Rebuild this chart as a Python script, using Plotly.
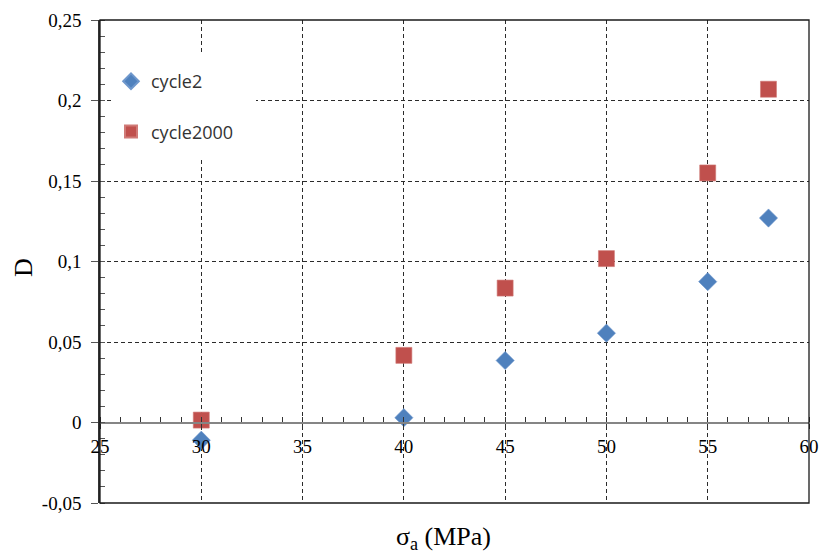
import plotly.graph_objects as go

# Data
stress = [30, 40, 45, 50, 55, 58]
cycle2 = [-0.011, 0.003, 0.0385, 0.0555, 0.0875, 0.127]
cycle2000 = [0.0015, 0.0417, 0.0835, 0.1018, 0.155, 0.207]

x_ticks = [25, 30, 35, 40, 45, 50, 55, 60]
x_ticktext = ["25", "30", "35", "40", "45", "50", "55", "60"]
y_ticks = [-0.05, 0, 0.05, 0.1, 0.15, 0.2, 0.25]
y_ticktext = ["-0,05", "0", "0,05", "0,1", "0,15", "0,2", "0,25"]

x_range = [25, 60]
y_range = [-0.05, 0.25]

W, H = 819, 554
ML, MR, MT, MB = 100, 10, 20, 51
pw, ph = W - ML - MR, H - MT - MB


def px_x(p):
    return (p - ML) / pw


def px_y(p):
    return (H - MB - p) / ph


fig = go.Figure()
fig.add_trace(go.Scatter(
    x=stress, y=cycle2, mode="markers", name="cycle2",
    legendgroup="a",
    marker=dict(symbol="diamond", size=14, color="#4F81BD",
                line=dict(width=0.6, color="#6E97CC")),
))
fig.add_trace(go.Scatter(
    x=stress, y=cycle2000, mode="markers", name="cycle2000",
    legendgroup="b",
    marker=dict(symbol="square", size=16, color="#C0504D",
                line=dict(width=0.6, color="#D07A77")),
))

serif = "Liberation Serif, Times New Roman, serif"
grid_col = "#2b2b2b"

fig.update_layout(
    width=W, height=H,
    margin=dict(l=ML, r=MR, t=MT, b=MB, autoexpand=False),
    paper_bgcolor="white", plot_bgcolor="white",
    showlegend=True,
    legend=dict(
        x=px_x(111), y=px_y(63), xanchor="left", yanchor="top",
        bgcolor="rgba(255,255,255,0)", borderwidth=0,
        font=dict(family="Open Sans, sans-serif", size=18, color="#333333"),
        traceorder="grouped", tracegroupgap=24, itemsizing="constant",
    ),
    xaxis=dict(
        range=x_range, anchor="free", automargin=False,
        position=(0 - y_range[0]) / (y_range[1] - y_range[0]),
        tickmode="array", tickvals=x_ticks, ticktext=x_ticktext,
        tickfont=dict(family=serif, size=19, color="black"),
        showline=True, linecolor="#858585", linewidth=2,
        ticks="outside", ticklen=5, tickcolor="#333", tickwidth=1,
        ticklabelstandoff=2, ticklabeloverflow="allow",
        minor=dict(ticks="inside", ticklen=5, dtick=1, tickcolor="#333", tickwidth=1),
        showgrid=True, gridcolor=grid_col, gridwidth=1, griddash="4px,3px",
        zeroline=False,
    ),
    yaxis=dict(
        range=y_range, domain=[0, 1], automargin=False,
        tickmode="array", tickvals=y_ticks, ticktext=y_ticktext,
        tickfont=dict(family=serif, size=19, color="black"),
        showline=True, linecolor="#333", linewidth=1.5,
        ticks="outside", ticklen=7, tickcolor="#555", tickwidth=1,
        ticklabelstandoff=6,
        minor=dict(ticks="inside", ticklen=5, dtick=0.01, tickcolor="#555", tickwidth=1),
        showgrid=True, gridcolor=grid_col, gridwidth=1, griddash="4px,3px",
        zeroline=False,
    ),
    shapes=[
        dict(type="rect", xref="paper", yref="paper",
             x0=px_x(111), x1=px_x(256), y0=px_y(157), y1=px_y(55),
             fillcolor="white", line=dict(width=0), layer="above"),
        dict(type="rect", xref="paper", yref="paper",
             x0=0, x1=1, y0=0, y1=1,
             line=dict(color="#1a1a1a", width=1.3), layer="above"),
    ],
    annotations=[
        dict(text="D", xref="paper", yref="paper",
             x=px_x(23), y=px_y(268), showarrow=False, textangle=-90,
             xanchor="center", yanchor="middle",
             font=dict(family=serif, size=26, color="black")),
        dict(text="σ<sub>a</sub> (MPa)", xref="paper", yref="paper",
             x=px_x(443), y=px_y(538), showarrow=False,
             xanchor="center", yanchor="middle",
             font=dict(family=serif, size=26, color="black")),
    ],
)

fig.write_html(
    "out.html",
    config={"displayModeBar": False},
    post_script="document.body.style.margin='0';document.body.style.overflow='hidden';",
)
